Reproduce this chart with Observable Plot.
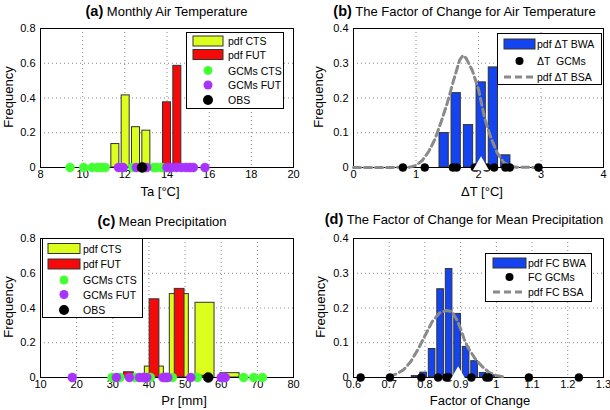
<!DOCTYPE html>
<html><head><meta charset="utf-8">
<script src="https://cdn.jsdelivr.net/npm/d3@7"></script>
<script src="https://cdn.jsdelivr.net/npm/@observablehq/plot@0.6"></script>
<style>
body{margin:0;background:#fff;}
#root{position:relative;width:610px;height:410px;font-family:"Liberation Sans",Arial,Helvetica,sans-serif;color:#000;overflow:hidden;background:#fff;}
.pn{position:absolute;}
.tt{position:absolute;white-space:pre;font-size:13px;line-height:16px;text-align:center;width:320px;}
.tt b{font-size:14.5px;}
.lab{position:absolute;white-space:pre;font-size:13px;line-height:16px;text-align:center;width:140px;}
.rot{transform:rotate(-90deg);transform-origin:50% 50%;}
</style></head><body><div id="root"></div>
<script>
// ---------- data ----------
// (a) Monthly Air Temperature
const taCtsX = [11.55, 12.04, 12.53, 13.02];
const taCtsY = [0.135, 0.415, 0.232, 0.212];
const taFutX = [13.51, 14.00, 14.49, 14.98];
const taFutY = [0.012, 0.375, 0.585, 0.01];
const taGcmCts = [9.4, 10.05, 10.45, 10.7, 10.88, 11.07, 11.85, 12.38, 12.95, 13.37, 13.52, 13.75];
const taGcmFut = [11.7, 11.92, 12.55, 13.03, 14.0, 14.22, 14.45, 14.68, 14.9, 15.08, 15.25, 15.8];
const taObs = [12.82];
// (b) Factor of change for air temperature
const dtBwaX = [1.45, 1.643, 1.84, 2.043, 2.238, 2.437];
const dtBwaY = [0.099, 0.214, 0.122, 0.245, 0.288, 0.035];
const dtGcm = [0.79, 1.14, 1.59, 1.65, 1.94, 2.13, 2.25, 2.43, 2.5, 2.96];
const dtBsaX = [0, 0.5, 0.9, 1.0, 1.1, 1.2, 1.3, 1.4, 1.5, 1.6, 1.7, 1.75, 1.8, 1.9, 2.0, 2.1, 2.2, 2.3, 2.4, 2.5, 2.6, 3.0];
const dtBsaY = [0, 0, 0.001, 0.006, 0.02, 0.045, 0.08, 0.13, 0.185, 0.25, 0.31, 0.322, 0.315, 0.28, 0.225, 0.14, 0.085, 0.042, 0.015, 0.004, 0.001, 0];
const dtMedian = [2.04];
// (c) Mean precipitation
const prCtsX = [41.5, 48.41, 55.52, 62.45];
const prCtsY = [0.063, 0.48, 0.43, 0.025];
const prFutX = [34.45, 41.55, 48.5, 55.45];
const prFutY = [0.03, 0.45, 0.51, 0.01];
const prGcmCts = [29.8, 32.0, 36.2, 38.5, 40.4, 44.8, 46.5, 53.4, 60.5, 66.2, 69.0, 71.4];
const prGcmFut = [18.8, 31.0, 34.6, 37.4, 38.5, 39.4, 43.9, 44.6, 45.2, 51.6, 60.0, 61.1];
const prObs = [56.4];
// (d) Factor of change for mean precipitation
const fcBwaX = [0.7725, 0.7963, 0.8201, 0.8439, 0.8677, 0.8915, 0.9153, 0.9391, 0.9629, 0.9867];
const fcBwaY = [0.004, 0.014, 0.082, 0.254, 0.312, 0.183, 0.088, 0.047, 0.013, 0.006];
const fcGcm = [0.62, 0.702, 0.79, 0.837, 0.86, 0.867, 0.93, 0.972, 0.979, 1.091, 1.231];
const fcBsaX = [0.70, 0.72, 0.74, 0.76, 0.78, 0.80, 0.82, 0.84, 0.86, 0.875, 0.89, 0.90, 0.91, 0.92, 0.94, 0.96, 0.98, 1.0, 1.02];
const fcBsaY = [0.003, 0.01, 0.022, 0.045, 0.08, 0.12, 0.16, 0.185, 0.193, 0.19, 0.165, 0.14, 0.11, 0.087, 0.055, 0.032, 0.014, 0.006, 0.002];
const fcMedian = [0.893];

// tick labels
const taTicks = [8, 10, 12, 14, 16, 18, 20];
const dtTicks = [0, 1, 2, 3, 4];
const prTicks = [10, 20, 30, 40, 50, 60, 70, 80];
const fcTicks = [0.6, 0.7, 0.8, 0.9, 1.0, 1.1, 1.2, 1.3];
const y08Ticks = [0, 0.2, 0.4, 0.6, 0.8];
const y04Ticks = [0, 0.1, 0.2, 0.3, 0.4];

// ---------- styles ----------
const C = {yellow: "#dcff1e", red: "#f50a0a", blue: "#1444f0", green: "#44ff33", purple: "#a833ff",
           black: "#000", edge: "#333", dash: "#8a8a8a", grid: "#8a8a8a"};
const fmt = d3.format("~g");
const zip = (xs, ys) => xs.map((x, i) => ({x, y: ys[i]}));

function bars(xs, ys, w, fill) {
  return Plot.rect(zip(xs, ys), {x1: d => d.x - w / 2, x2: d => d.x + w / 2, y1: d => 0, y2: d => d.y,
    fill, stroke: C.edge, strokeWidth: 1});
}
function dots(xs, fill, r) {
  return Plot.dot(xs, {x: d => d, y: d => 0, r, fill, stroke: fill, strokeWidth: 0.5});
}

function panel(o) {
  return Plot.plot({
    width: 305, height: 205,
    marginLeft: o.ml, marginRight: o.mr, marginTop: o.mt, marginBottom: o.mb,
    style: {fontFamily: '"Liberation Sans", Arial, sans-serif', fontSize: "11px", background: "transparent", color: "#000", overflow: "visible"},
    x: {domain: o.xd, ticks: o.xt, tickFormat: fmt, label: null, tickSize: 0, tickPadding: 3},
    y: {domain: o.yd, ticks: o.yt, tickFormat: fmt, label: null, tickSize: 0, tickPadding: 5},
    marks: [
      Plot.gridX(o.xt, {stroke: C.grid, strokeOpacity: 1, strokeWidth: 1, strokeDasharray: "1,3"}),
      Plot.gridY(o.yt, {stroke: C.grid, strokeOpacity: 1, strokeWidth: 1, strokeDasharray: "1,3"}),
      Plot.axisX({ticks: o.xt, tickFormat: fmt, tickSize: 0, tickPadding: 3, label: null}),
      Plot.axisY({ticks: o.yt, tickFormat: fmt, tickSize: 0, tickPadding: 5, label: null}),
      ...o.under,
      Plot.frame({stroke: "#000", strokeWidth: 1}),
      ...o.over
    ]
  });
}

const root = document.getElementById("root");
function place(el, x, y) {
  const d = document.createElement("div");
  d.className = "pn"; d.style.left = x + "px"; d.style.top = y + "px";
  d.appendChild(el); root.appendChild(d);
}
function title(bold, rest, cx, cy) {
  const d = document.createElement("div");
  d.className = "tt";
  d.style.left = (cx - 160) + "px"; d.style.top = (cy - 8) + "px";
  const b = document.createElement("b"); b.textContent = bold;
  d.appendChild(b); d.appendChild(document.createTextNode(rest));
  root.appendChild(d);
}
function label(text, cx, cy, rotate) {
  const d = document.createElement("div");
  d.className = "lab" + (rotate ? " rot" : "");
  d.style.left = (cx - 70) + "px"; d.style.top = (cy - 8) + "px";
  d.textContent = text; root.appendChild(d);
}
const NS = "http://www.w3.org/2000/svg";
function legend(box, rows) {
  const s = document.createElementNS(NS, "svg");
  s.setAttribute("width", box.w); s.setAttribute("height", box.h);
  s.style.cssText = `position:absolute;left:${box.x}px;top:${box.y}px;font-family:"Liberation Sans",Arial,sans-serif;font-size:10.5px;overflow:visible;`;
  const add = (tag, attrs, txt) => { const e = document.createElementNS(NS, tag); for (const k in attrs) e.setAttribute(k, attrs[k]); if (txt != null) e.textContent = txt; s.appendChild(e); return e; };
  add("rect", {x: 0.5, y: 0.5, width: box.w - 1, height: box.h - 1, fill: "#fff", stroke: "#000", "stroke-width": 1});
  for (const r of rows) {
    const y = r.y - box.y;
    const x1 = box.sx1 - box.x, x2 = box.sx2 - box.x, xm = (x1 + x2) / 2;
    if (r.kind === "patch") add("rect", {x: x1, y: y - 5, width: x2 - x1, height: 10, fill: r.color, stroke: C.edge, "stroke-width": 1});
    if (r.kind === "dot") add("circle", {cx: xm, cy: y, r: r.r, fill: r.color});
    if (r.kind === "dash") add("line", {x1: x1, x2: x2, y1: y, y2: y, stroke: C.dash, "stroke-width": 3, "stroke-dasharray": "7,4"});
    const t = add("text", {x: box.tx - box.x, y: y, "dominant-baseline": "central"}, r.text);
    t.setAttribute("xml:space", "preserve"); t.style.whiteSpace = "pre";
  }
  root.appendChild(s);
}

// ---------- panel (a) ----------
place(panel({ml: 40, mr: 12, mt: 28, mb: 38, xd: [8, 20], xt: taTicks, yd: [0, 0.8], yt: y08Ticks,
  under: [bars(taCtsX, taCtsY, 0.38, C.yellow), bars(taFutX, taFutY, 0.38, C.red)],
  over: [dots(taGcmCts, C.green, 4.5), dots(taGcmFut, C.purple, 4.5), dots(taObs, C.black, 5)]}), 0, 0);
// ---------- panel (b) ----------
place(panel({ml: 48, mr: 7, mt: 28, mb: 38, xd: [0, 4], xt: dtTicks, yd: [0, 0.4], yt: y04Ticks,
  under: [bars(dtBwaX, dtBwaY, 0.148, C.blue)],
  over: [Plot.line(zip(dtBsaX, dtBsaY), {x: "x", y: "y", stroke: C.dash, strokeWidth: 3, strokeDasharray: "7,4"}),
         dots(dtGcm, C.black, 4),
         Plot.dot(dtMedian, {x: d => d, y: d => 0, symbol: "triangle", r: 6, fill: "#fff", dy: -2})]}), 305, 0);
// ---------- panel (c) ----------
place(panel({ml: 40, mr: 12, mt: 33, mb: 33, xd: [10, 80], xt: prTicks, yd: [0, 0.8], yt: y08Ticks,
  under: [bars(prCtsX, prCtsY, 5.26, C.yellow), bars(prFutX, prFutY, 2.7, C.red)],
  over: [dots(prGcmCts, C.green, 4.5), dots(prGcmFut, C.purple, 4.5), dots(prObs, C.black, 5)]}), 0, 205);
// ---------- panel (d) ----------
place(panel({ml: 48, mr: 7, mt: 33, mb: 33, xd: [0.6, 1.3], xt: fcTicks, yd: [0, 0.4], yt: y04Ticks,
  under: [bars(fcBwaX, fcBwaY, 0.0185, C.blue)],
  over: [Plot.line(zip(fcBsaX, fcBsaY), {x: "x", y: "y", stroke: C.dash, strokeWidth: 3, strokeDasharray: "7,4"}),
         dots(fcGcm, C.black, 4),
         Plot.dot(fcMedian, {x: d => d, y: d => 0, symbol: "triangle", r: 6, fill: "#fff", dy: -2})]}), 305, 205);

// ---------- titles & labels ----------
title("(a)", " Monthly Air Temperature", 166.5, 11);
title("(b)", " The Factor of Change for Air Temperature", 464.5, 11);
title("(c)", " Mean Precipitation", 162, 221);
title("(d)", " The Factor of Change for Mean Precipitation", 464, 219);
label("Frequency", 9, 97, true);
label("Frequency", 319, 97, true);
label("Frequency", 9, 307, true);
label("Frequency", 321, 307, true);
label("Ta [°C]", 160, 192);
label("ΔT [°C]", 482, 192);
label("Pr [mm]", 184, 401);
label("Factor of Change", 480, 401);

// ---------- legends ----------
legend({x: 186, y: 32, w: 98, h: 77, sx1: 193, sx2: 223, tx: 228}, [
  {kind: "patch", color: C.yellow, y: 41, text: "pdf CTS"},
  {kind: "patch", color: C.red, y: 54.5, text: "pdf FUT"},
  {kind: "dot", color: C.green, r: 4.5, y: 70.5, text: "GCMs CTS"},
  {kind: "dot", color: C.purple, r: 4.5, y: 85, text: "GCMs FUT"},
  {kind: "dot", color: C.black, r: 5, y: 100, text: "OBS"}]);
legend({x: 497, y: 33, w: 105, h: 52, sx1: 504, sx2: 535, tx: 537}, [
  {kind: "patch", color: C.blue, y: 44, text: "pdf ΔT BWA"},
  {kind: "dot", color: C.black, r: 4, y: 61, text: "ΔT  GCMs"},
  {kind: "dash", y: 77, text: "pdf ΔT BSA"}]);
legend({x: 42, y: 238, w: 101, h: 80, sx1: 48, sx2: 80, tx: 83}, [
  {kind: "patch", color: C.yellow, y: 248.5, text: "pdf CTS"},
  {kind: "patch", color: C.red, y: 264, text: "pdf FUT"},
  {kind: "dot", color: C.green, r: 4.5, y: 280, text: "GCMs CTS"},
  {kind: "dot", color: C.purple, r: 4.5, y: 294.5, text: "GCMs FUT"},
  {kind: "dot", color: C.black, r: 5, y: 310, text: "OBS"}]);
legend({x: 485, y: 253, w: 107, h: 49, sx1: 493, sx2: 526, tx: 528}, [
  {kind: "patch", color: C.blue, y: 263, text: "pdf FC BWA"},
  {kind: "dot", color: C.black, r: 4, y: 277, text: "FC GCMs"},
  {kind: "dash", y: 292, text: "pdf FC BSA"}]);
</script></body></html>
